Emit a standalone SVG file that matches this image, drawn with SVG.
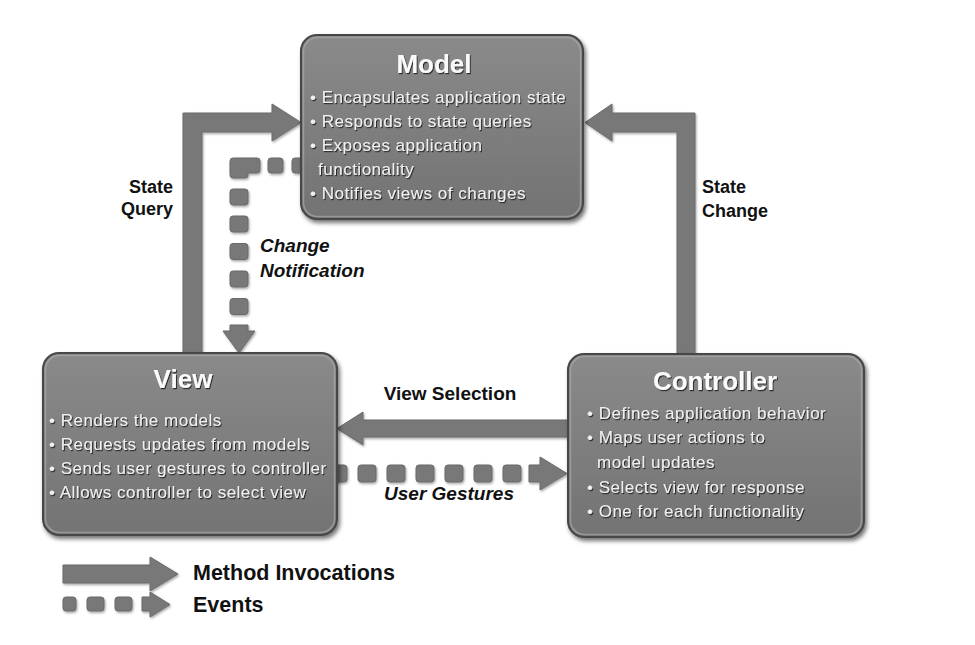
<svg xmlns="http://www.w3.org/2000/svg" width="975" height="645" viewBox="0 0 975 645">
  <defs>
    <linearGradient id="boxFill" x1="0" y1="0" x2="0" y2="1">
      <stop offset="0" stop-color="#8a8a8a"/>
      <stop offset="1" stop-color="#737373"/>
    </linearGradient>
    <filter id="boxShadow" x="-10%" y="-10%" width="125%" height="130%">
      <feDropShadow dx="2" dy="3" stdDeviation="2" flood-color="#000" flood-opacity="0.55"/>
    </filter>
    <filter id="arrowShadow" x="-10%" y="-10%" width="130%" height="130%">
      <feDropShadow dx="1" dy="1.5" stdDeviation="1" flood-color="#000" flood-opacity="0.35"/>
    </filter>
    <filter id="textShadow" x="-5%" y="-20%" width="115%" height="150%">
      <feDropShadow dx="1" dy="1.2" stdDeviation="0.7" flood-color="#1a1a1a" flood-opacity="0.9"/>
    </filter>
  </defs>
  <style>
    .box { fill: url(#boxFill); stroke: #474747; stroke-width: 2; filter: url(#boxShadow); }
    .bevel { fill: none; stroke: #a8a8a8; stroke-width: 1.5; opacity: 0.7; }
    .title { font-family: "Liberation Sans", Arial, sans-serif; font-weight: bold; font-size: 26px; fill: #fafafa; text-anchor: middle; filter: url(#textShadow); }
    .item { font-family: "Liberation Sans", Arial, sans-serif; font-size: 17px; letter-spacing: 0.5px; fill: #f0f0f0; filter: url(#textShadow); }
    .arrow { fill: #787878; stroke: #6a6a6a; stroke-width: 1; stroke-linejoin: round; filter: url(#arrowShadow); }
    .label { font-family: "Liberation Sans", Arial, sans-serif; font-weight: bold; font-size: 18px; fill: #111; }
    .italic { font-style: italic; font-size: 19px; }
    .mid { font-size: 19px; }
    .legend-text { font-size: 21.5px; }
  </style>

  <rect width="975" height="645" fill="#ffffff"/>

  <!-- connectors -->
  <g id="connectors">
    <!-- State Query: View up to Model -->
    <polygon class="arrow" points="183,356 183,113 272,113 272,104 301,122.5 272,141 272,132 202,132 202,356"/>
    <!-- State Change: Controller up to Model -->
    <polygon class="arrow" points="695,357 695,113 612,113 612,104 585,122.5 612,141 612,132 677,132 677,357"/>
    <!-- View Selection: Controller to View -->
    <polygon class="arrow" points="570,420 363,420 363,412 337,428.5 363,445 363,437 570,437"/>

    <!-- Change Notification: Model to View (events) -->
    <g class="arrow">
      <rect x="292" y="158" width="16" height="15" rx="3"/>
      <rect x="268" y="158" width="15" height="15" rx="3"/>
      <path d="M233,158 H257 Q260,158 260,161 V170 Q260,173 257,173 H248 V175 Q248,178 245,178 H233 Q230,178 230,175 V161 Q230,158 233,158 Z"/>
      <rect x="230" y="189" width="18" height="16" rx="3"/>
      <rect x="230" y="216" width="18" height="16" rx="3"/>
      <rect x="230" y="243.5" width="18" height="16" rx="3"/>
      <rect x="230" y="271" width="18" height="16" rx="3"/>
      <rect x="230" y="298.5" width="18" height="16" rx="3"/>
      <polygon points="230,325 248,325 248,331 255,331 239,353 223,331 230,331"/>
    </g>

    <!-- User Gestures: View to Controller (events) -->
    <g class="arrow">
      <rect x="329" y="465" width="18" height="17" rx="3"/>
      <rect x="358" y="465" width="18" height="17" rx="3"/>
      <rect x="387" y="465" width="18" height="17" rx="3"/>
      <rect x="416" y="465" width="18" height="17" rx="3"/>
      <rect x="445" y="465" width="18" height="17" rx="3"/>
      <rect x="474" y="465" width="18" height="17" rx="3"/>
      <rect x="503" y="465" width="18" height="17" rx="3"/>
      <polygon points="529,465 540,465 540,457 567,473.5 540,490 540,482 529,482"/>
    </g>

    <text class="label" x="173" y="193" text-anchor="end">State</text>
    <text class="label" x="173" y="215" text-anchor="end">Query</text>
    <text class="label" x="702" y="193">State</text>
    <text class="label" x="702" y="217">Change</text>
    <text class="label italic" x="260" y="252">Change</text>
    <text class="label italic" x="260" y="277">Notification</text>
    <text class="label mid" x="450" y="400" text-anchor="middle">View Selection</text>
    <text class="label italic" x="449" y="500" text-anchor="middle">User Gestures</text>
  </g>

  <!-- Model node -->
  <g id="model">
    <rect class="box" x="301" y="35" width="282" height="184" rx="16"/>
    <rect class="bevel" x="303.5" y="37.5" width="277" height="179" rx="14"/>
    <text class="title" x="434" y="73">Model</text>
    <text class="item" x="310" y="103">• Encapsulates application state</text>
    <text class="item" x="310" y="127">• Responds to state queries</text>
    <text class="item" x="310" y="151">• Exposes application</text>
    <text class="item" x="318" y="175">functionality</text>
    <text class="item" x="310" y="199">• Notifies views of changes</text>
  </g>

  <!-- View node -->
  <g id="view">
    <rect class="box" x="43" y="353" width="294" height="182" rx="16"/>
    <rect class="bevel" x="45.5" y="355.5" width="289" height="177" rx="14"/>
    <text class="title" x="183" y="388">View</text>
    <text class="item" x="49" y="426">• Renders the models</text>
    <text class="item" x="49" y="450">• Requests updates from models</text>
    <text class="item" x="49" y="474">• Sends user gestures to controller</text>
    <text class="item" x="49" y="498">• Allows controller to select view</text>
  </g>

  <!-- Controller node -->
  <g id="controller">
    <rect class="box" x="568" y="354" width="296" height="183" rx="16"/>
    <rect class="bevel" x="570.5" y="356.5" width="291" height="178" rx="14"/>
    <text class="title" x="715" y="390">Controller</text>
    <text class="item" x="587" y="419">• Defines application behavior</text>
    <text class="item" x="587" y="443">• Maps user actions to</text>
    <text class="item" x="597" y="468">model updates</text>
    <text class="item" x="587" y="493">• Selects view for response</text>
    <text class="item" x="587" y="517">• One for each functionality</text>
  </g>

  <!-- legend -->
  <g id="legend">
    <polygon class="arrow" points="63,565 150,565 150,557 178,574 150,591 150,583 63,583"/>
    <g class="arrow">
      <rect x="63" y="597" width="13" height="14" rx="3"/>
      <rect x="87" y="597" width="17" height="14" rx="3"/>
      <rect x="115" y="597" width="17" height="14" rx="3"/>
      <polygon points="142,597 150,597 150,592 170,604.5 150,617 150,611 142,611"/>
    </g>
    <text class="label legend-text" x="193" y="580">Method Invocations</text>
    <text class="label legend-text" x="193" y="612">Events</text>
  </g>
</svg>
